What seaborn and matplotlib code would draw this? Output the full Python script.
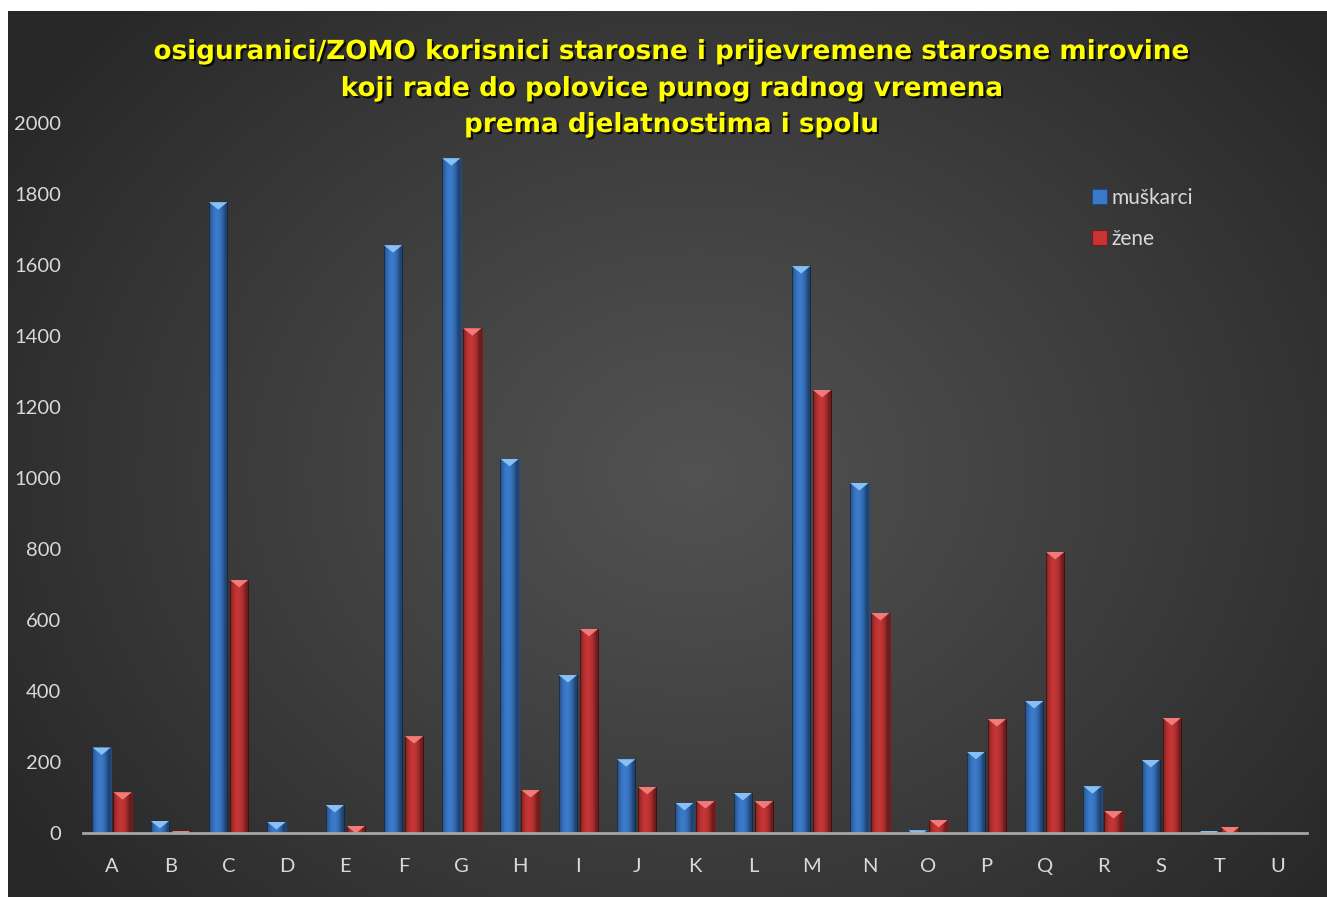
import numpy as np
import pandas as pd
import matplotlib
matplotlib.use("Agg")
import matplotlib.pyplot as plt
import seaborn as sns
from matplotlib.patches import Polygon, Rectangle
import matplotlib.patheffects as pe

# ---------------- data ----------------
categories = list("ABCDEFGHIJKLMNOPQRSTU")
muskarci = [241, 34, 1777, 31, 79, 1656, 1901, 1054, 445, 208, 85, 113,
            1597, 986, 8, 229, 372, 132, 206, 6, 0]
zene = [115, 6, 713, 1, 20, 273, 1422, 121, 575, 130, 90, 90,
        1248, 620, 37, 321, 792, 62, 324, 17, 0]
series_names = ["muškarci", "žene"]
title_lines = ["osiguranici/ZOMO korisnici starosne i prijevremene starosne mirovine",
               "koji rade do polovice punog radnog vremena",
               "prema djelatnostima i spolu"]
yticks = [0, 200, 400, 600, 800, 1000, 1200, 1400, 1600, 1800, 2000]

df = pd.DataFrame({
    "kat": categories * 2,
    "vrijednost": muskarci + zene,
    "spol": [series_names[0]] * len(categories) + [series_names[1]] * len(categories),
})

# ---------------- styling ----------------
W, H = 1327, 897
sns.set_theme(style="white")
plt.rcParams["font.family"] = ["Lato", "DejaVu Sans"]

blue = "#3b7acb"
red = "#c53535"
blue_light = "#86c0f6"
red_light = "#f17b7b"
blue_dark = "#1d4a86"
red_dark = "#7e1717"

fig = plt.figure(figsize=(W / 100, H / 100), dpi=100, facecolor="white")

# background panel with radial gradient
bg = fig.add_axes([8 / W, 0, (W - 8) / W, (H - 11) / H], zorder=-5)
ny, nx = 300, 450
yy, xx = np.mgrid[0:ny, 0:nx]
cx, cy = nx * 0.52, ny * 0.52
r = np.sqrt(((xx - cx) / (nx * 0.62)) ** 2 + ((yy - cy) / (ny * 0.75)) ** 2)
r = np.clip(r, 0, 1)
val = 0.32 - (0.32 - 0.155) * r ** 1.1
img = np.dstack([val, val, val])
bg.imshow(img, aspect="auto", extent=(0, 1, 0, 1), interpolation="bilinear")
bg.set_axis_off()

# main axes
ax_l, ax_r = 83, 1307
ax_b, ax_t = 833, 123
ax = fig.add_axes([ax_l / W, (H - ax_b) / H, (ax_r - ax_l) / W, (ax_b - ax_t) / H])
ax.set_facecolor("none")

sns.barplot(data=df, x="kat", y="vrijednost", hue="spol", palette=[blue, red],
            width=0.72, gap=0.12, saturation=1, ax=ax, legend=False, errorbar=None)

ax.set_xlim(-0.5, len(categories) - 0.5)
ax.set_ylim(0, 2000)

px_per_unit = (ax_b - ax_t) / 2000.0
tri_depth = 7.5 / px_per_unit

lights = [blue_light, red_light]
darks = [blue_dark, red_dark]
for ci, cont in enumerate(ax.containers):
    for bar in cont:
        x, w, h = bar.get_x(), bar.get_width(), bar.get_height()
        if h <= 0:
            continue
        bar.set_edgecolor(darks[ci])
        bar.set_linewidth(0.6)
        # horizontal shading (darker edges, lighter centre)
        t = np.linspace(0, 1, 40)
        shade = np.clip(np.abs(t - 0.42) * 2.2, 0, 1) ** 2
        grad = np.zeros((1, 40, 4))
        grad[..., 3] = shade * 0.45
        im = ax.imshow(grad, extent=(x, x + w, 0, h), aspect="auto",
                       interpolation="bilinear", zorder=bar.get_zorder() + 0.1)
        im.set_clip_path(bar)
        # bevel triangle at top
        tri = Polygon([(x, h), (x + w, h), (x + w / 2, h - tri_depth)],
                      closed=True, facecolor=lights[ci], edgecolor="none",
                      zorder=bar.get_zorder() + 0.2)
        ax.add_patch(tri)
        tri.set_clip_path(bar)

ax.set_xlim(-0.5, len(categories) - 0.5)
ax.set_ylim(0, 2000)
ax.set_yticks(yticks)
ax.set_xlabel("")
ax.set_ylabel("")
for s in ["top", "right", "left"]:
    ax.spines[s].set_visible(False)
ax.spines["bottom"].set_color("#a6a6a6")
ax.spines["bottom"].set_linewidth(2)
ax.tick_params(axis="x", length=0, pad=18, labelsize=14.5, labelcolor="#d9d9d9")
ax.tick_params(axis="y", length=0, pad=16, labelsize=14.5, labelcolor="#d9d9d9")
ax.grid(False)

# legend
handles = [Rectangle((0, 0), 1, 1, facecolor=blue, edgecolor=blue_dark, linewidth=0.8),
           Rectangle((0, 0), 1, 1, facecolor=red, edgecolor=red_dark, linewidth=0.8)]
leg = fig.legend(handles, series_names, loc="upper left",
                 bbox_to_anchor=(1073 / W, 1 - 169 / H), bbox_transform=fig.transFigure,
                 frameon=False, fontsize=15, handlelength=0.75, handleheight=0.75,
                 handletextpad=0.2, labelspacing=1.0)
for txt in leg.get_texts():
    txt.set_color("#d9d9d9")

# title
title_y = [52, 89, 125]
for line, yp in zip(title_lines, title_y):
    fig.text(672 / W, 1 - yp / H, line, ha="center", va="center",
             fontsize=18.9, fontweight="bold", color="#ffff00",
             family=["DejaVu Sans"],
             path_effects=[pe.withSimplePatchShadow(offset=(1.5, -1.5),
                                                    shadow_rgbFace="black", alpha=0.8)])

fig.savefig("out.png", dpi=100, facecolor="white")
